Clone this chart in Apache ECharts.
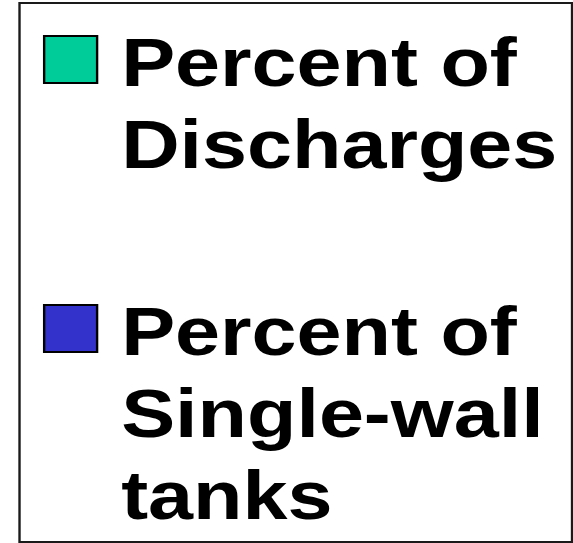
<!DOCTYPE html>
<html>
<head>
<meta charset="utf-8">
<script src="https://cdn.jsdelivr.net/npm/echarts@6/dist/echarts.min.js"></script>
<style>
  html, body { margin: 0; padding: 0; background: #fff; overflow: hidden; }
  #main { width: 481.5px; height: 543px; transform: scaleX(1.19); transform-origin: 0 0; }
</style>
</head>
<body>
<div id="main"></div>
<script>
// Legend entries (the reference shows only the legend of the chart)
const legendLines = [
  ['Percent of', 'Discharges'],
  ['Percent of', 'Single-wall', 'tanks']
];
const seriesNames = legendLines.map(l => l.join(' '));
const seriesColors = ['#00CC99', '#3333CC'];
const seriesValues = [[], []];

const FONT = 68, LH = 82, SHIFT = 3;
const iconTops = [36, 305];
const ITEM_H = 47;

const chart = echarts.init(document.getElementById('main'), null, { renderer: 'svg' });

const fontBase = {
  fontFamily: 'Arial, "Liberation Sans", sans-serif',
  fontWeight: 'bold',
  fontSize: FONT,
  color: '#000'
};

function legendFor(i) {
  const n = legendLines[i].length;
  const spacerH = (n - 1) * LH + 2 * SHIFT;   // blank line keeps line 1 level with the icon
  const blockH = spacerH + n * LH;
  const center = iconTops[i] + ITEM_H / 2;
  return {
    show: true,
    orient: 'vertical',
    left: 36.1,
    top: center - blockH / 2,
    padding: 0,
    itemGap: 0,
    itemWidth: 44.5,
    itemHeight: ITEM_H,
    icon: 'rect',
    selectedMode: false,
    data: [seriesNames[i]],
    itemStyle: { borderColor: '#000', borderWidth: 2 },
    formatter: function (name) {
      const lines = legendLines[seriesNames.indexOf(name)];
      return '{s' + i + '| }\n' + lines.map(l => '{t|' + l + '}').join('\n');
    },
    textStyle: Object.assign({}, fontBase, {
      lineHeight: LH,
      padding: [0, 0, 0, 15.2],
      rich: {
        ['s' + i]: Object.assign({}, fontBase, { lineHeight: spacerH, height: spacerH }),
        t: Object.assign({}, fontBase, { lineHeight: LH })
      }
    })
  };
}

chart.setOption({
  animation: false,
  grid: { show: false, left: 0, right: 0, top: 0, bottom: 0 },
  xAxis: { show: false, type: 'category', data: [] },
  yAxis: { show: false, type: 'value' },
  legend: [legendFor(0), legendFor(1)],
  graphic: [{
    type: 'rect',
    shape: { x: 16.4, y: 3, width: 464.3, height: 539 },
    style: { fill: 'none', stroke: '#1a1a1a', lineWidth: 2 },
    silent: true
  }],
  series: seriesNames.map((name, i) => ({
    type: 'bar',
    name: name,
    data: seriesValues[i],
    itemStyle: { color: seriesColors[i] }
  }))
});
</script>
</body>
</html>
